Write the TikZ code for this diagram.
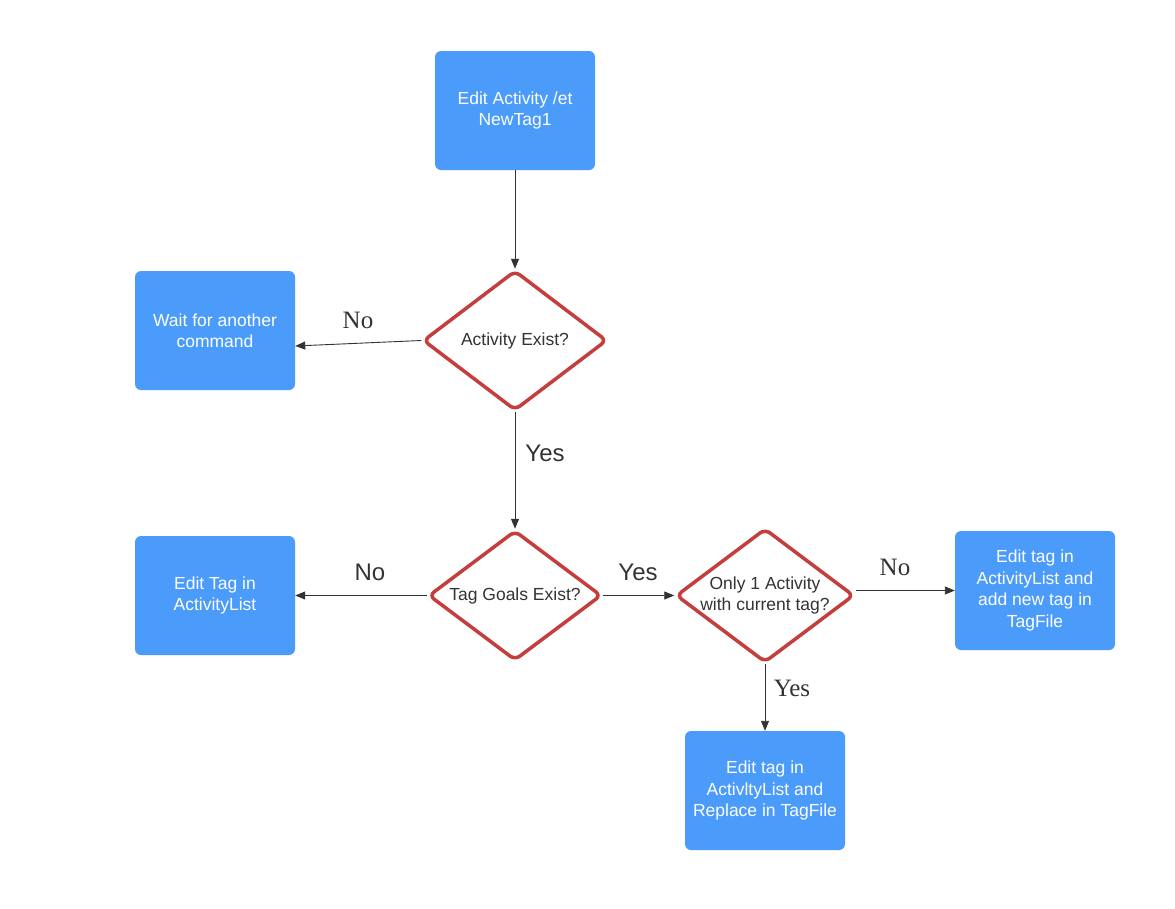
\documentclass[tikz,border=0pt]{standalone}
\usepackage{fontspec}
\setmainfont{Liberation Sans}
\newfontfamily\seriffont{Liberation Serif}
\usetikzlibrary{shapes.geometric,arrows.meta}
\definecolor{boxblue}{RGB}{74,155,250}
\definecolor{dred}{RGB}{196,62,62}
\definecolor{ink}{RGB}{51,51,51}
\tikzset{
  procbox/.style={fill=boxblue, rounded corners=6pt, minimum width=160pt, minimum height=119pt,
    inner sep=0pt, text=white, align=center, font=\fontsize{17.5}{21.5}\selectfont},
  decision/.style={diamond, draw=dred, line width=3.5pt, fill=white, rounded corners=6pt, inner sep=0pt},
  dtext/.style={align=center, text=ink, font=\fontsize{17.5}{21.5}\selectfont},
  conn/.style={draw=ink, line width=0.9pt, -{Triangle[length=10pt,width=8pt]}},
  sanslab/.style={text=ink, font=\fontsize{24}{28}\selectfont},
  seriflab/.style={text=ink, font=\seriffont\fontsize{25}{29}\selectfont},
}
\begin{document}
\begin{tikzpicture}[x=1pt,y=-1pt]
\useasboundingbox (0,0) rectangle (1175,908);
\node[procbox] (start) at (515,110.5) {Edit Activity /et\\NewTag1};
\node[procbox] (wait) at (215,330.5) {Wait for another\\command};
\node[procbox] (edittag) at (215,595.5) {Edit Tag in\\ActivityList};
\node[procbox] (addnew) at (1035,590.5) {Edit tag in\\ActivityList and\\add new tag in\\TagFile};
\node[procbox] (replace) at (765,790.5) {Edit tag in\\ActivltyList and\\Replace in TagFile};

\node[decision, minimum width=184pt, minimum height=140pt,
  label={[dtext]center:{Activity Exist?}}] (d1) at (515,340.5) {};
\node[decision, minimum width=173pt, minimum height=130pt,
  label={[dtext]center:{Tag Goals Exist?}}] (d2) at (515,595.5) {};
\node[decision, minimum width=178pt, minimum height=134pt,
  label={[dtext]center:{Only 1 Activity\\with current tag?}}] (d3) at (765,595.5) {};

\draw[conn] (start.south) -- (d1.north);
\draw[conn] (d1.west) -- ([yshift=-15.5pt]wait.east);
\draw[conn] (d1.south) -- (d2.north);
\draw[conn] (d2.west) -- (edittag.east |- d2.west);
\draw[conn] (d2.east) -- (d3.west);
\draw[conn] (addnew.west -| d3.east) -- (addnew.west);
\draw[conn] (d3.south) -- (replace.north);

\node[seriflab] (l1) at (358,320) {No};
\node[sanslab] (l2) at (545,453) {Yes};
\node[sanslab] (l3) at (370,572) {No};
\node[sanslab] (l4) at (638,572) {Yes};
\node[seriflab] (l5) at (895,567) {No};
\node[seriflab] (l6) at (792,688) {Yes};
\end{tikzpicture}
\end{document}
